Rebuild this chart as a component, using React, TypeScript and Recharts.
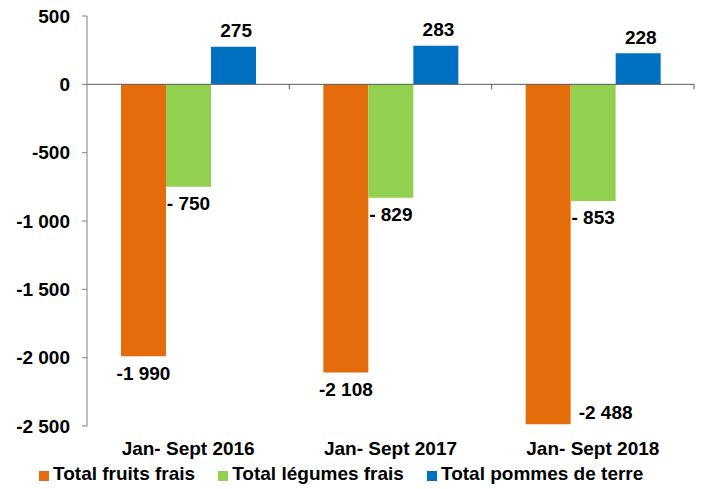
import React from 'react';
import { BarChart, Bar, XAxis, YAxis, ReferenceLine, LabelList, Legend } from 'recharts';

const periods = ['Jan- Sept 2016', 'Jan- Sept 2017', 'Jan- Sept 2018'];
const fruits = [-1990, -2108, -2488];
const legumes = [-750, -829, -853];
const pommes = [275, 283, 228];
const yTicks = [-2500, -2000, -1500, -1000, -500, 0, 500];

const SERIES = [
  { key: 'fruits', name: 'Total fruits frais', color: '#E46C0A' },
  { key: 'legumes', name: 'Total légumes frais', color: '#92D050' },
  { key: 'pommes', name: 'Total pommes de terre', color: '#0070C0' },
];

const data = periods.map((p, i) => ({
  period: p,
  fruits: fruits[i],
  legumes: legumes[i],
  pommes: pommes[i],
}));

const FONT = '"Liberation Sans", Arial, sans-serif';
const PLOT_BOTTOM = 426;

const group = (n: number) => String(n).replace(/\B(?=(\d{3})+(?!\d))/g, ' ');

// excel style "# ##0" : leading space under 1000
const fmtLabel = (v: number) => {
  const a = Math.abs(v);
  return (v < 0 ? '-' : '') + (a < 1000 ? ' ' + a : group(a));
};
const fmtTick = (v: number) => (v < 0 ? '-' : '') + group(Math.abs(v));

const BarLabel = (props: any) => {
  const { x, y, width, height, value } = props;
  const top = Math.min(y, y + height);
  const bottom = Math.max(y, y + height);
  const cx = x + width / 2;
  const style = { whiteSpace: 'pre' as const };
  const common = { fontFamily: FONT, fontWeight: 700, fontSize: 19, fill: '#000', style };
  if (value >= 0) {
    return (
      <text x={cx} y={top - 16} textAnchor="middle" dominantBaseline="central" {...common}>
        {fmtLabel(value)}
      </text>
    );
  }
  if (bottom + 25 > PLOT_BOTTOM) {
    return (
      <text x={x + width + 8} y={bottom - 12} textAnchor="start" dominantBaseline="central" {...common}>
        {fmtLabel(value)}
      </text>
    );
  }
  return (
    <text x={cx} y={bottom + 17} textAnchor="middle" dominantBaseline="central" {...common}>
      {fmtLabel(value)}
    </text>
  );
};

const ZeroAxis = (props: any) => {
  const { x1, x2, y1 } = props;
  const step = (x2 - x1) / periods.length;
  return (
    <g>
      <line x1={x1} x2={x2} y1={y1} y2={y1} stroke="#595959" strokeWidth={1} />
      {periods.map((_, i) => (
        <line
          key={i}
          x1={x1 + step * (i + 1)}
          x2={x1 + step * (i + 1)}
          y1={y1}
          y2={y1 + 5}
          stroke="#595959"
          strokeWidth={1}
        />
      ))}
    </g>
  );
};

const LegendContent = () => (
  <div style={{ display: 'flex', alignItems: 'center', paddingLeft: 39, fontFamily: FONT, fontWeight: 700, fontSize: 19, color: '#000' }}>
    {SERIES.map((s) => (
      <div key={s.key} style={{ display: 'flex', alignItems: 'center', marginRight: 23 }}>
        <span style={{ display: 'inline-block', width: 10, height: 10, background: s.color, marginRight: 4, marginTop: 3 }} />
        <span>{s.name}</span>
      </div>
    ))}
  </div>
);

export default function App() {
  return (
    <div style={{ position: 'absolute', left: 0, top: 0, width: 702, height: 489, background: '#fff' }}>
      <BarChart width={702} height={489} data={data} margin={{ top: 16, right: 8, left: 0, bottom: 33 }} barGap={0} barSize={45}>
        <XAxis
          dataKey="period"
          axisLine={false}
          tickLine={false}
          tickSize={0}
          tickMargin={16}
          height={30}
          tick={{ fontFamily: FONT, fontWeight: 700, fontSize: 19, fill: '#000' }}
          interval={0}
        />
        <YAxis
          domain={[-2500, 500]}
          ticks={yTicks}
          width={87}
          tickSize={5}
          tickMargin={12}
          tickFormatter={fmtTick}
          axisLine={{ stroke: '#808080' }}
          tickLine={{ stroke: '#808080' }}
          tick={{ fontFamily: FONT, fontWeight: 700, fontSize: 19, fill: '#000' }}
          interval={0}
        />
        {SERIES.map((s) => (
          <Bar key={s.key} dataKey={s.key} name={s.name} fill={s.color} isAnimationActive={false}>
            <LabelList dataKey={s.key} content={BarLabel} />
          </Bar>
        ))}
        <ReferenceLine y={0} shape={ZeroAxis} />
        <Legend
          layout="horizontal"
          verticalAlign="middle"
          align="center"
          content={LegendContent}
          wrapperStyle={{ top: 463, left: 0, width: 702, height: 26 }}
        />
      </BarChart>
    </div>
  );
}
